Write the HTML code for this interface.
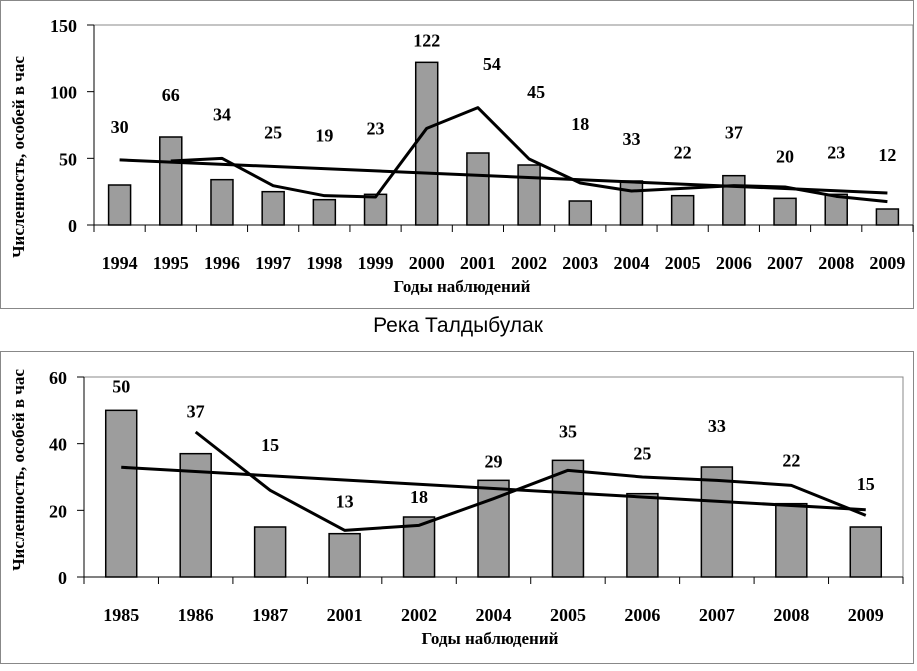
<!DOCTYPE html>
<html><head><meta charset="utf-8"><style>
body{margin:0;background:#fff;width:917px;height:666px;overflow:hidden}
svg text{font-family:"Liberation Serif",serif;font-weight:bold;fill:#000}
</style></head><body>
<svg id="s" width="917" height="666" xmlns="http://www.w3.org/2000/svg">
<rect x="0.5" y="0.5" width="913" height="308" fill="#fff" stroke="#888"/>
<rect x="0.5" y="351.5" width="913" height="312" fill="#fff" stroke="#888"/>
<text x="458" y="332" text-anchor="middle" style="font-family:'Liberation Sans',sans-serif;font-weight:normal;font-size:21px">Река Талдыбулак</text>
</svg>
<script>
const topYears=["1994","1995","1996","1997","1998","1999","2000","2001","2002","2003","2004","2005","2006","2007","2008","2009"];
const topValues=[30,66,34,25,19,23,122,54,45,18,33,22,37,20,23,12];
const topTicks=[0,50,100,150];
const topLabelOffsets=[52,36,59,53,58,60,16,83,67,71,36,37,37,36,36,48];
const botYears=["1985","1986","1987","2001","2002","2004","2005","2006","2007","2008","2009"];
const botValues=[50,37,15,13,18,29,35,25,33,22,15];
const botTicks=[0,20,40,60];
const botLabelOffsets=[18,36,76,26,14,13,23,34,35,37,37];
const NS="http://www.w3.org/2000/svg";
const svg=document.getElementById('s');
function el(t,a,txt){const e=document.createElementNS(NS,t);for(const k in a)e.setAttribute(k,a[k]);if(txt!==undefined)e.textContent=txt;svg.appendChild(e);return e;}
function draw(c){
  const n=c.cats.length, cw=(c.x1-c.x0)/n;
  const X=i=>c.x0+cw*(i+0.5);
  const Y=v=>c.y1-(v/c.max)*(c.y1-c.y0);
  let e=el('rect',{x:c.x0,y:c.y0,width:c.x1-c.x0,height:c.y1-c.y0,fill:'none',stroke:'#888','stroke-width':1});
  
  c.ticks.forEach(t=>{
    e=el('line',{x1:c.x0-7,x2:c.x0,y1:Y(t),y2:Y(t),stroke:'#000'});
    
    e=el('text',{x:c.x0-17,y:Y(t)+7,'text-anchor':'end','font-size':'18'},t);
    
  });
  e=el('line',{x1:c.x0,x2:c.x0,y1:c.y0,y2:c.y1+7,stroke:'#000'});
  
  e=el('line',{x1:c.x0,x2:c.x1,y1:c.y1,y2:c.y1,stroke:'#000'});
  
  for(let i=0;i<=n;i++){e=el('line',{x1:c.x0+cw*i,x2:c.x0+cw*i,y1:c.y1,y2:c.y1+7,stroke:'#000'});
    }
  c.vals.forEach((v,i)=>{
    e=el('rect',{x:X(i)-c.bw/2,y:Y(v),width:c.bw,height:c.y1-Y(v),fill:'#9d9d9d',stroke:'#000','stroke-width':1.5});
    
    e=el('text',{x:X(i)+(c.lx[i]||0),y:Y(v)-c.off[i],'text-anchor':'middle','font-size':'18'},v);
    
    e=el('text',{x:X(i),y:c.y1+44,'text-anchor':'middle','font-size':'18'},c.cats[i]);
    
  });
  let sx=0,sy=0,sxx=0,sxy=0;c.vals.forEach((v,i)=>{sx+=i;sy+=v;sxx+=i*i;sxy+=i*v;});
  const b=(n*sxy-sx*sy)/(n*sxx-sx*sx),a=(sy-b*sx)/n;
  e=el('line',{x1:X(0),y1:Y(a),x2:X(n-1),y2:Y(a+b*(n-1)),stroke:'#000','stroke-width':3});
  
  let pts=[];for(let i=1;i<n;i++)pts.push(X(i)+','+Y((c.vals[i]+c.vals[i-1])/2));
  e=el('polyline',{points:pts.join(' '),fill:'none',stroke:'#000','stroke-width':3,'stroke-linejoin':'round'});
  
  e=el('text',{x:c.tx,y:c.y1+67,'text-anchor':'middle','font-size':'17'},'Годы наблюдений');
  
  e=el('text',{x:0,y:0,'text-anchor':'middle','font-size':'17',transform:'translate(24,'+c.ay+') rotate(-90)'},'Численность, особей в час');
  
}
draw({p:'top',cats:topYears,vals:topValues,ticks:topTicks,off:topLabelOffsets,max:150,x0:94,x1:913,y0:25,y1:225,bw:22,tx:462,ay:157,lx:{7:14,8:7}});
draw({p:'bottom',cats:botYears,vals:botValues,ticks:botTicks,off:botLabelOffsets,max:60,x0:84,x1:903,y0:377,y1:577,bw:31,tx:490,ay:470,lx:{}});
</script>
</body></html>
